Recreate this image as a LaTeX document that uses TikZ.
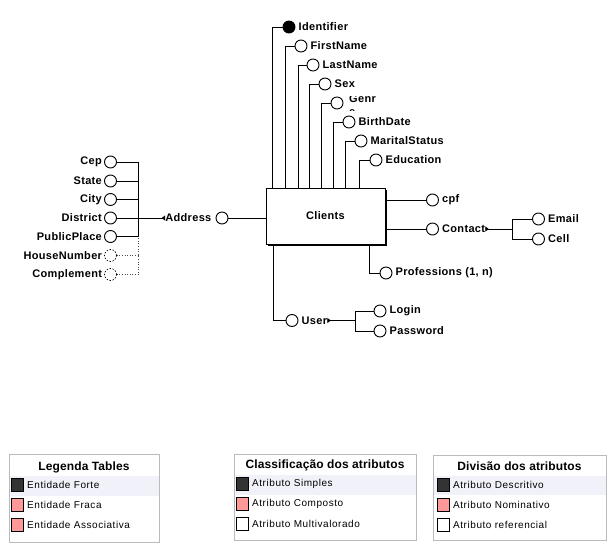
\documentclass[tikz,border=0pt]{standalone}
\usepackage{fontspec}
\setmainfont{Liberation Sans}
\usetikzlibrary{arrows.meta,calc}

\definecolor{strongfill}{HTML}{333333}
\definecolor{weakfill}{HTML}{FF9999}
\definecolor{bandfill}{RGB}{241,241,250}
\definecolor{legborder}{HTML}{BBBBBB}

\begin{document}
\begin{tikzpicture}[x=1pt,y=-1pt,
  every node/.style={font=\fontsize{11}{13}\selectfont\bfseries\addfontfeatures{LetterSpace=3}},
  attr/.style={circle,draw,line width=0.9pt,minimum size=12pt,inner sep=0pt,fill=white},
  keyattr/.style={attr,fill=black},
  optattr/.style={attr,dash pattern=on 1.5pt off 1.5pt,line width=0.6pt},
  lblr/.style={anchor=west,inner sep=0pt,xshift=3pt},
  lbll/.style={anchor=east,inner sep=0pt,xshift=-2pt},
  link/.style={line width=0.9pt},
  optlink/.style={line width=0.6pt,dotted,black!70},
  branch/.style={link,{Triangle[reversed,length=3.5pt,width=5pt]}-},
  entity/.style={draw,line width=0.9pt,fill=white,minimum width=119pt,minimum height=56pt,inner sep=0pt},
  legbox/.style={draw=legborder,line width=0.8pt,anchor=north west,inner sep=0pt},
  legtitle/.style={font=\fontsize{12}{14}\selectfont\bfseries\addfontfeatures{LetterSpace=1},inner sep=0pt},
  legtext/.style={font=\fontsize{10}{12}\selectfont\addfontfeatures{LetterSpace=5.5},anchor=west,inner sep=0pt},
  swatch/.style={draw=black,line width=0.6pt,minimum width=12pt,minimum height=13pt,inner sep=0pt}
]
\useasboundingbox (0,0) rectangle (608,546);

% ---------- entity with drop shadow ----------
\fill[black] (268,190) rectangle (387,246);
\node[entity] (clients) at (325.5,216) {Clients};

% ---------- attributes above the entity ----------
\node[keyattr] (id)     at (289,27)  {};
\node[attr]    (fname)  at (301,46)  {};
\node[attr]    (lname)  at (313,65)  {};
\node[attr]    (sex)    at (325,84)  {};
\node[attr]    (genre)  at (337,103) {};
\node[attr]    (birth)  at (349,122) {};
\node[attr]    (marital) at (361,141) {};
\node[attr]    (edu)    at (376,160) {};

\node[lblr] (idl)  at (id.east)      {Identifier};
\node[lblr] (fnl)  at (fname.east)   {FirstName};
\node[lblr] (lnl)  at (lname.east)   {LastName};
\node[lblr] (sexl) at (sex.east)     {Sex};
\node[lblr] (bdl)  at (birth.east)   {BirthDate};
\node[lblr] (msl)  at (marital.east) {MaritalStatus};
\node[lblr] (edl)  at (edu.east)     {Education};
% wrapped label, clipped to its box
\begin{scope}
  \clip (344,96) rectangle (385,110.5);
  \node[anchor=base west,inner sep=0pt] (genl1) at (349,102) {Genr};
  \node[anchor=base west,inner sep=0pt] (genl2) at (349,115) {e};
\end{scope}

\draw[link] (id.west)      -| ($(clients.north west)+(7,0)$);
\draw[link] (fname.west)   -| ($(clients.north west)+(20,0)$);
\draw[link] (lname.west)   -| ($(clients.north west)+(33,0)$);
\draw[link] (sex.west)     -| ($(clients.north west)+(44,0)$);
\draw[link] (genre.west)   -| ($(clients.north west)+(56,0)$);
\draw[link] (birth.west)   -| ($(clients.north west)+(68,0)$);
\draw[link] (marital.west) -| ($(clients.north west)+(80,0)$);
\draw[link] (edu.west)     -| ($(clients.north west)+(94,0)$);

% ---------- composite attribute Address ----------
\node[attr] (addr) at (222,218) {};
\node[lbll,xshift=-2pt] (addrl) at (addr.west) {Address};
\draw[link] (addr.east) -- (addr.east -| clients.west);

\coordinate (abus) at (138.3,218);
\node[attr]    (cep)   at (110.5,162) {};
\node[attr]    (state) at (110.5,181) {};
\node[attr]    (city)  at (110.5,199.5) {};
\node[attr]    (dist)  at (110.5,218) {};
\node[attr]    (pplace) at (110.5,236.5) {};
\node[optattr] (hnum)  at (110.5,255.5) {};
\node[optattr] (compl) at (110.5,274.5) {};

\node[lbll] (cepl)   at (cep.west)    {Cep};
\node[lbll] (statel) at (state.west)  {State};
\node[lbll] (cityl)  at (city.west)   {City};
\node[lbll] (distl)  at (dist.west)   {District};
\node[lbll] (ppl)    at (pplace.west) {PublicPlace};
\node[lbll] (hnl)    at (hnum.west)   {HouseNumber};
\node[lbll] (cpl)    at (compl.west)  {Complement};

\draw[branch] (addrl.west) -- (abus);
\draw[link] (cep.east) -| (abus);
\draw[link] (pplace.east) -| (abus);
\draw[link] (state.east) -- (state.east -| abus);
\draw[link] (city.east) -- (city.east -| abus);
\draw[link] (dist.east) -- (abus);
\draw[optlink] (compl.east) -| (pplace.east -| abus);
\draw[optlink] (hnum.east) -- (hnum.east -| abus);

% ---------- attributes to the right ----------
\node[attr] (cpf) at (432.5,200) {};
\node[lblr] (cpfl) at (cpf.east) {cpf};
\draw[link] (cpf.west -| clients.east) -- (cpf.west);

\node[attr] (contact) at (432.5,229) {};
\node[lblr] (contactl) at (contact.east) {Contact};
\draw[link] (contact.west -| clients.east) -- (contact.west);

\coordinate (cbus) at (512,229);
\node[attr] (email) at (538.5,219) {};
\node[attr] (cell)  at (538.5,239) {};
\node[lblr] (emaill) at (email.east) {Email};
\node[lblr] (celll)  at (cell.east)  {Cell};
\draw[branch] (contactl.east) -- (cbus);
\draw[link] (email.west) -| (cbus);
\draw[link] (cell.west) -| (cbus);

% ---------- attributes below ----------
\node[attr] (prof) at (386,273) {};
\node[lblr] (profl) at (prof.east) {Professions (1, n)};
\draw[link] (prof.west) -| ($(clients.south west)+(104,0)$);

\node[attr] (user) at (292,320.5) {};
\node[lblr] (userl) at (user.east) {User};
\draw[link] (user.west) -| ($(clients.south west)+(8,0)$);

\coordinate (ubus) at (355,320.5);
\node[attr] (login) at (380,311) {};
\node[attr] (pass)  at (380,331) {};
\node[lblr] (loginl) at (login.east) {Login};
\node[lblr] (passl)  at (pass.east)  {Password};
\draw[branch] (userl.east) -- (ubus);
\draw[link] (login.west) -| (ubus);
\draw[link] (pass.west) -| (ubus);

% ---------- legend: tables ----------
\node[legbox,minimum width=150pt,minimum height=88pt] (leg1) at (9,454) {};
\fill[bandfill] (10,476) rectangle (158.5,496);
\node[legtitle] (leg1t) at (84,467) {Legenda Tables};
\node[swatch,fill=strongfill] (leg1a) at (17,485) {};
\node[swatch,fill=weakfill]   (leg1b) at (17,505) {};
\node[swatch,fill=weakfill]   (leg1c) at (17,525) {};
\node[legtext] (leg1at) at (27,485) {Entidade Forte};
\node[legtext] (leg1bt) at (27,505) {Entidade Fraca};
\node[legtext] (leg1ct) at (27,525) {Entidade Associativa};

% ---------- legend: attribute classes ----------
\node[legbox,minimum width=182pt,minimum height=86pt] (leg2) at (234,454) {};
\fill[bandfill] (235,475) rectangle (415.5,495);
\node[legtitle] (leg2t) at (325,465) {Classificação dos atributos};
\node[swatch,fill=strongfill] (leg2a) at (242,484) {};
\node[swatch,fill=weakfill]   (leg2b) at (242,504) {};
\node[swatch,fill=white]      (leg2c) at (242,524) {};
\node[legtext] (leg2at) at (252,484) {Atributo Simples};
\node[legtext] (leg2bt) at (252,504) {Atributo Composto};
\node[legtext] (leg2ct) at (252,524) {Atributo Multivalorado};

% ---------- legend: attribute roles ----------
\node[legbox,minimum width=173pt,minimum height=85pt] (leg3) at (433,455) {};
\fill[bandfill] (434,476) rectangle (605.5,495);
\node[legtitle] (leg3t) at (519.5,466) {Divisão dos atributos};
\node[swatch,fill=strongfill] (leg3a) at (443,485) {};
\node[swatch,fill=weakfill]   (leg3b) at (443,505) {};
\node[swatch,fill=white]      (leg3c) at (443,525) {};
\node[legtext] (leg3at) at (453,485) {Atributo Descritivo};
\node[legtext] (leg3bt) at (453,505) {Atributo Nominativo};
\node[legtext] (leg3ct) at (453,525) {Atributo referencial};
\end{tikzpicture}
\end{document}
